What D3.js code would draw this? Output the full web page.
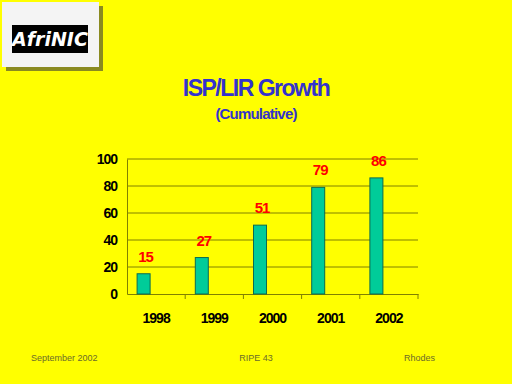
<!DOCTYPE html>
<html>
<head>
<meta charset="utf-8">
<script src="https://cdn.jsdelivr.net/npm/d3@7"></script>
<style>
  body { margin: 0; background: #ffff00; }
  svg { display: block; }
</style>
</head>
<body>
<div id="chart"></div>
<script>
// data
var years = ["1998", "1999", "2000", "2001", "2002"];
var members = [15, 27, 51, 79, 86];
var yTicks = [0, 20, 40, 60, 80, 100];

var W = 512, H = 384;
var margin = {top: 159, left: 127, right: 512 - 418, bottom: 384 - 294};
var width = W - margin.left - margin.right,
    height = H - margin.top - margin.bottom;

var svg = d3.select("#chart").append("svg")
  .attr("width", W).attr("height", H)
  .style("font-family", "Liberation Sans, Arial, sans-serif");

svg.append("rect").attr("width", W).attr("height", H).attr("fill", "#ffff00");

// logo
var logo = svg.append("g");
logo.append("rect").attr("x", 6).attr("y", 6).attr("width", 97).attr("height", 65).attr("fill", "#8a8a20");
logo.append("rect").attr("x", 2).attr("y", 2).attr("width", 97).attr("height", 65).attr("fill", "#f4f4f4");
logo.append("rect").attr("x", 12).attr("y", 25).attr("width", 76).attr("height", 28).attr("fill", "#000");
logo.append("text").attr("x", 50).attr("y", 46).attr("text-anchor", "middle")
  .attr("fill", "#fff").style("font-size", "19px").style("font-weight", "bold").style("font-style", "italic")
  .style("font-family", "DejaVu Sans, sans-serif").text("AfriNIC");

// titles
svg.append("text").attr("x", 256).attr("y", 96).attr("text-anchor", "middle")
  .attr("fill", "#3333cc").style("font-size", "23px").style("font-weight", "bold")
  .style("letter-spacing", "-1.5px").text("ISP/LIR Growth");
svg.append("text").attr("x", 256).attr("y", 119).attr("text-anchor", "middle")
  .attr("fill", "#3333cc").style("font-size", "15px").style("font-weight", "bold")
  .style("letter-spacing", "-0.8px").text("(Cumulative)");

var g = svg.append("g").attr("transform", "translate(" + margin.left + "," + margin.top + ")");

var x = d3.scaleBand().domain(years).range([0, width]);
var y = d3.scaleLinear().domain([0, 100]).range([height, 0]);

// gridlines
g.selectAll(".grid").data(yTicks.slice(1)).enter().append("line")
  .attr("x1", 0).attr("x2", width)
  .attr("y1", function(d) { return y(d); }).attr("y2", function(d) { return y(d); })
  .attr("stroke", "#808000").attr("stroke-width", 1);

// axes
var yAxis = g.append("g").call(d3.axisLeft(y).tickValues(yTicks).tickSize(0).tickPadding(10));
yAxis.select(".domain").attr("stroke", "#808000");
yAxis.selectAll("text").attr("fill", "#000").style("font-size", "14px").style("font-weight", "bold")
  .style("letter-spacing", "-1px").style("font-family", "Liberation Sans, Arial, sans-serif");

var xAxis = g.append("g").attr("transform", "translate(0," + height + ")")
  .call(d3.axisBottom(x).tickSize(0).tickPadding(19));
xAxis.select(".domain").attr("stroke", "#808000");
xAxis.selectAll("text").attr("fill", "#000").style("font-size", "14px").style("font-weight", "bold")
  .style("letter-spacing", "-1px").style("font-family", "Liberation Sans, Arial, sans-serif");
// category separators
g.selectAll(".sep").data(years.slice(1).concat(["end"])).enter().append("line")
  .attr("x1", function(d, i) { return x.step() * (i + 1); })
  .attr("x2", function(d, i) { return x.step() * (i + 1); })
  .attr("y1", height).attr("y2", height + 5)
  .attr("stroke", "#808000");

// bars (offset left as in a two-slot group)
var barW = 13;
function barX(d) { return x(d) + x.bandwidth() / 2 - 13 - barW / 2 + 0.5; }
g.selectAll(".bar").data(years).enter().append("rect")
  .attr("x", barX)
  .attr("y", function(d, i) { return y(members[i]); })
  .attr("width", barW)
  .attr("height", function(d, i) { return height - y(members[i]); })
  .attr("fill", "#00cc99").attr("stroke", "#0b6b50").attr("stroke-width", 1);

g.selectAll(".lbl").data(years).enter().append("text")
  .attr("x", function(d) { return barX(d) + barW / 2 + 2; })
  .attr("y", function(d, i) { return y(members[i]) - 12; })
  .attr("text-anchor", "middle").attr("fill", "#ff0000")
  .style("font-size", "15px").style("font-weight", "bold").style("letter-spacing", "-1px")
  .text(function(d, i) { return members[i]; });

// footer
var foot = [["September 2002", 31, "start"], ["RIPE 43", 256, "middle"], ["Rhodes", 404, "start"]];
svg.selectAll(".foot").data(foot).enter().append("text")
  .attr("x", function(d) { return d[1]; }).attr("y", 361)
  .attr("text-anchor", function(d) { return d[2]; })
  .attr("fill", "#6b6b2a").style("font-size", "9px")
  .text(function(d) { return d[0]; });
</script>
</body>
</html>
